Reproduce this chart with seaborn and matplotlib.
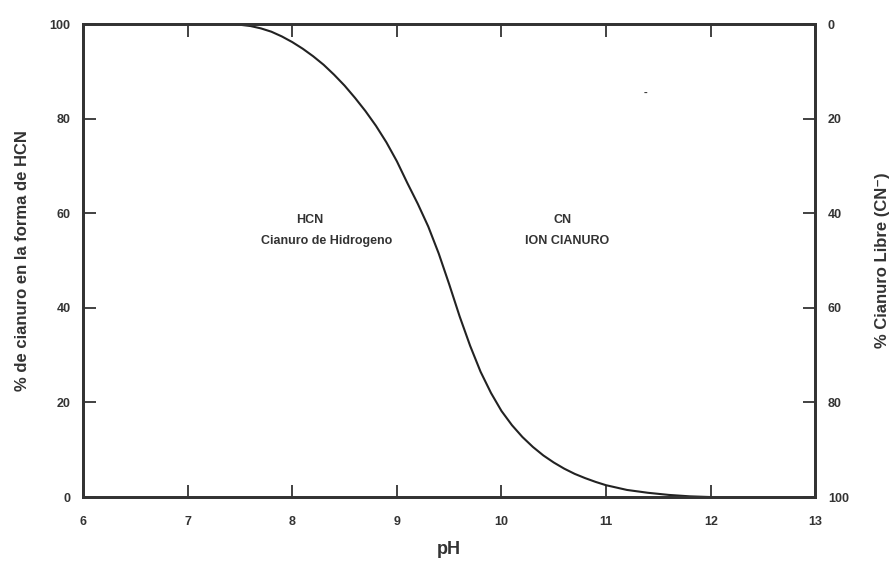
import matplotlib
matplotlib.use("Agg")
import matplotlib.pyplot as plt
import seaborn as sns
import pandas as pd

# Data
ph = [7.45, 7.6, 7.7, 7.8, 7.9, 8.0, 8.1, 8.2, 8.3, 8.4, 8.5, 8.6, 8.7, 8.8, 8.9,
      9.0, 9.1, 9.2, 9.3, 9.4, 9.5, 9.6, 9.7, 9.8, 9.9, 10.0, 10.1, 10.2, 10.3,
      10.4, 10.5, 10.6, 10.7, 10.8, 10.9, 11.0, 11.2, 11.4, 11.6, 11.8, 12.0]
hcn_pct = [100, 99.6, 99.1, 98.4, 97.4, 96.2, 94.8, 93.2, 91.4, 89.3, 87.0, 84.4,
           81.6, 78.5, 75.0, 71.0, 66.4, 62.0, 57.2, 51.5, 45.0, 38.2, 32.0, 26.5,
           22.0, 18.2, 15.2, 12.7, 10.6, 8.8, 7.3, 6.0, 4.9, 4.0, 3.2, 2.5, 1.5,
           0.9, 0.45, 0.15, 0.0]
x_ticks = [6, 7, 8, 9, 10, 11, 12, 13]
left_ticks = [0, 20, 40, 60, 80, 100]
right_ticks = [0, 20, 40, 60, 80, 100]
labels = ["HCN", "Cianuro de Hidrogeno", "CN", "ION CIANURO"]
label_pos = [(8.17, 58.6), (8.33, 54.1), (10.58, 58.6), (10.63, 54.1)]

sns.set_theme(style="white")
plt.rcParams['font.family'] = ['Liberation Sans', 'DejaVu Sans']

df = pd.DataFrame({"pH": ph, "HCN": hcn_pct})

fig = plt.figure(figsize=(8.93, 5.61), dpi=100)
ax = fig.add_axes([0.093, 0.114, 0.820, 0.843])
sns.lineplot(data=df, x="pH", y="HCN", ax=ax, color="#222222", linewidth=1.5)

ax.set_xlim(6, 13)
ax.set_ylim(0, 100)
ax.set_xticks(x_ticks)
ax.set_yticks(left_ticks)
tc = "#333333"
for s in ax.spines.values():
    s.set_linewidth(2.0)
    s.set_color("#333333")
ax.tick_params(axis="x", direction="in", length=9, width=1.3, color="#333333",
               top=True, bottom=True, pad=14, labelsize=9, labelcolor=tc)
ax.tick_params(axis="y", direction="in", length=9, width=1.3, color="#333333",
               left=True, right=False, pad=9, labelsize=9, labelcolor=tc)
for lbl in ax.get_xticklabels() + ax.get_yticklabels():
    lbl.set_fontweight("bold")

ax.set_xlabel("pH", fontsize=13, fontweight="bold", color=tc, labelpad=9)
ax.set_ylabel("% de cianuro en la forma de HCN", fontsize=12, fontweight="bold",
              color=tc, labelpad=14)

ax2 = ax.twinx()
ax2.set_ylim(100, 0)
ax2.set_yticks(right_ticks)
ax2.tick_params(axis="y", direction="in", length=9, width=1.3, color="#333333",
                right=True, pad=9, labelsize=9, labelcolor=tc)
for lbl in ax2.get_yticklabels():
    lbl.set_fontweight("bold")
for s in ax2.spines.values():
    s.set_linewidth(2.0)
    s.set_color("#333333")
ax2.set_ylabel("% Cianuro Libre (CN⁻)", fontsize=12, fontweight="bold",
               color=tc, labelpad=19)
ax2.grid(False)

for t, (xx, yy) in zip(labels, label_pos):
    ax.text(xx, yy, t, ha="center", va="center", fontsize=9, fontweight="bold",
            color=tc)
ax.text(11.38, 85.4, "-", ha="center", va="center", fontsize=8,
        fontweight="bold", color=tc)

fig.savefig("out.png", dpi=100)
